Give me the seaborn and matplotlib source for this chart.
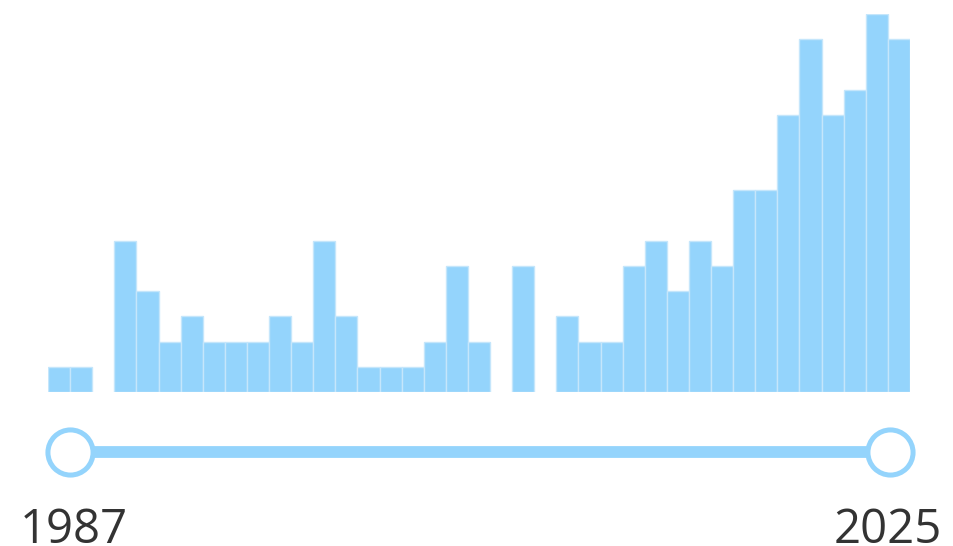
import matplotlib
matplotlib.use("Agg")
import matplotlib.pyplot as plt
import seaborn as sns
import numpy as np
import pandas as pd

years = list(range(1987, 2026))
counts = [1, 1, 0, 6, 4, 2, 3, 2, 2, 2, 3, 2, 6, 3, 1, 1, 1, 2, 5, 2,
          0, 5, 0, 3, 2, 2, 5, 6, 4, 6, 5, 8, 8, 11, 14, 11, 12, 15, 14]
range_start = 1987
range_end = 2025

BAR = "#94d4fc"
EDGE = "#c5e6fb"
TEXT = "#333333"

sns.set_theme(style="white")
plt.rcParams['font.family'] = ['Open Sans', 'DejaVu Sans']

W, H = 954, 546
fig = plt.figure(figsize=(W / 100, H / 100), dpi=100)

# histogram axes
left, right = 48, 910
base, top = 392, 14
ax = fig.add_axes([left / W, (H - base) / H, (right - left) / W, (base - top) / H])
df = pd.DataFrame({"year": years, "count": counts})
sns.barplot(data=df, x="year", y="count", native_scale=True, width=1.0,
            color=BAR, saturation=1, edgecolor=EDGE, linewidth=1.0, ax=ax)
for p in ax.patches:
    if p.get_height() == 0:
        p.set_linewidth(0)
ax.set_xlim(years[0] - 0.5, years[-1] + 0.5)
ax.set_ylim(0, 15)
ax.axis("off")

# slider axes
sx0, sx1 = 70, 890
ppy = (sx1 - sx0) / (range_end - range_start)
ax2 = fig.add_axes([0, 0, 1, 1])
ax2.set_xlim(range_start - sx0 / ppy, range_end + (W - sx1) / ppy)
ax2.set_ylim(H, 0)
ax2.axis("off")
ax2.patch.set_alpha(0)
sdf = pd.DataFrame({"x": [range_start, range_end], "y": [452, 452]})
sns.lineplot(data=sdf, x="x", y="y", color=BAR, linewidth=8.5, ax=ax2,
             solid_capstyle="butt", zorder=1)
ax2.plot(sdf["x"], sdf["y"], linestyle="none", marker="o", markersize=32.5,
         markerfacecolor="white", markeredgecolor=BAR, markeredgewidth=3.6, zorder=3)
ax2.set_xlim(range_start - sx0 / ppy, range_end + (W - sx1) / ppy)
ax2.set_ylim(H, 0)
ax2.axis("off")
ax2.text(range_start - 50 / ppy, 543, str(range_start), ha="left", va="baseline",
         fontsize=34, color=TEXT)
ax2.text(range_end + 52 / ppy, 543, str(range_end), ha="right", va="baseline",
         fontsize=34, color=TEXT)

fig.savefig("out.png", dpi=100)
